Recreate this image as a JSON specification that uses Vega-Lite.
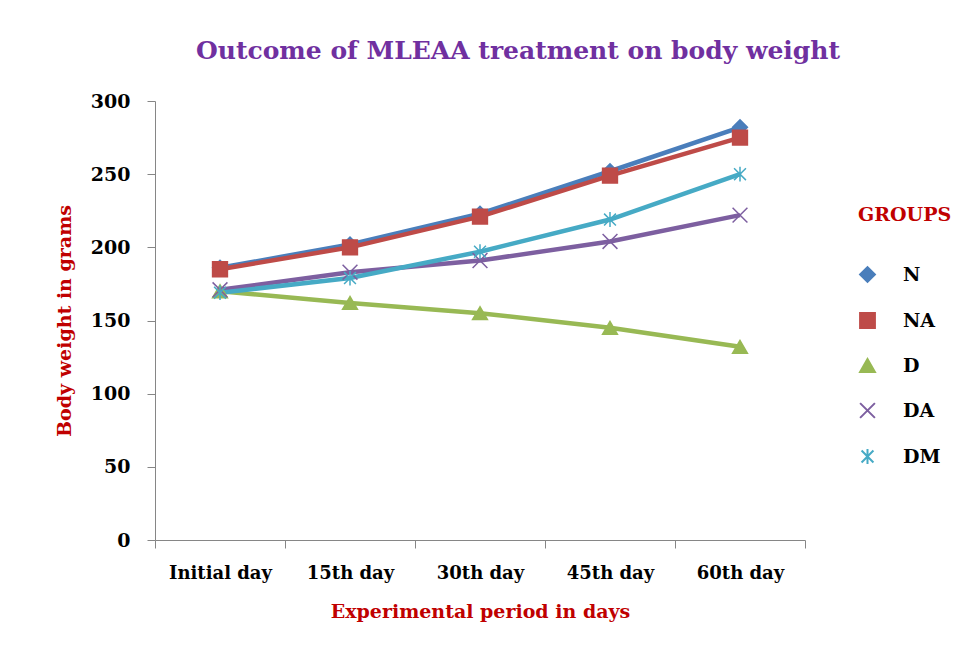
{
  "$schema": "https://vega.github.io/schema/vega-lite/v6.json",
  "autosize": "none",
  "width": 650,
  "height": 439,
  "padding": {"left": 155, "top": 101, "right": 157, "bottom": 110},
  "background": "white",
  "config": {"view": {"stroke": null}, "font": "DejaVu Serif"},
  "title": {
    "text": "Outcome of MLEAA treatment on body weight",
    "color": "#7030a0",
    "font": "DejaVu Serif",
    "fontWeight": "bold",
    "fontSize": 25,
    "anchor": "middle",
    "frame": "group",
    "dx": 38,
    "offset": 28
  },
  "data": {
    "values": [
      {"day": "Initial day", "group": "N", "weight": 186},
      {"day": "15th day", "group": "N", "weight": 202},
      {"day": "30th day", "group": "N", "weight": 223},
      {"day": "45th day", "group": "N", "weight": 252},
      {"day": "60th day", "group": "N", "weight": 282},
      {"day": "Initial day", "group": "NA", "weight": 185},
      {"day": "15th day", "group": "NA", "weight": 200},
      {"day": "30th day", "group": "NA", "weight": 221},
      {"day": "45th day", "group": "NA", "weight": 249},
      {"day": "60th day", "group": "NA", "weight": 275},
      {"day": "Initial day", "group": "D", "weight": 170},
      {"day": "15th day", "group": "D", "weight": 162},
      {"day": "30th day", "group": "D", "weight": 155},
      {"day": "45th day", "group": "D", "weight": 145},
      {"day": "60th day", "group": "D", "weight": 132},
      {"day": "Initial day", "group": "DA", "weight": 171},
      {"day": "15th day", "group": "DA", "weight": 183},
      {"day": "30th day", "group": "DA", "weight": 191},
      {"day": "45th day", "group": "DA", "weight": 204},
      {"day": "60th day", "group": "DA", "weight": 222},
      {"day": "Initial day", "group": "DM", "weight": 169},
      {"day": "15th day", "group": "DM", "weight": 179},
      {"day": "30th day", "group": "DM", "weight": 197},
      {"day": "45th day", "group": "DM", "weight": 219},
      {"day": "60th day", "group": "DM", "weight": 250}
    ]
  },
  "encoding": {
    "x": {
      "field": "day",
      "type": "nominal",
      "sort": ["Initial day", "15th day", "30th day", "45th day", "60th day"],
      "scale": {"paddingInner": 0, "paddingOuter": 0},
      "axis": {
        "title": "Experimental period in days",
        "titleColor": "#c00000",
        "titleFont": "DejaVu Serif",
        "titleFontSize": 19,
        "titleFontWeight": "bold",
        "titlePadding": 20,
        "labelAngle": 0,
        "labelFont": "DejaVu Serif",
        "labelFontSize": 18,
        "labelFontWeight": "bold",
        "labelColor": "black",
        "labelPadding": 16,
        "tickBand": "extent",
        "tickSize": 8,
        "tickColor": "#868686",
        "domainColor": "#868686",
        "grid": false
      }
    },
    "y": {
      "field": "weight",
      "type": "quantitative",
      "scale": {"domain": [0, 300], "nice": false},
      "axis": {
        "title": "Body weight in grams",
        "titleColor": "#c00000",
        "titleFont": "DejaVu Serif",
        "titleFontSize": 19,
        "titleFontWeight": "bold",
        "titlePadding": 16,
        "values": [0, 50, 100, 150, 200, 250, 300],
        "labelFont": "DejaVu Serif",
        "labelFontSize": 19,
        "labelFontWeight": "bold",
        "labelColor": "black",
        "labelPadding": 17,
        "tickSize": 8,
        "tickColor": "#868686",
        "domainColor": "#868686",
        "grid": false
      }
    },
    "color": {
      "field": "group",
      "type": "nominal",
      "sort": ["N", "NA", "D", "DA", "DM"],
      "scale": {
        "domain": ["N", "NA", "D", "DA", "DM"],
        "range": ["#4a7ebb", "#be4b48", "#98b954", "#7d5fa0", "#46aac5"]
      },
      "legend": {
        "title": "GROUPS",
        "titleColor": "#c00000",
        "titleFont": "DejaVu Serif",
        "titleFontSize": 19,
        "titleFontWeight": "bold",
        "titlePadding": 40,
        "labelFont": "DejaVu Serif",
        "labelFontSize": 19,
        "labelFontWeight": "bold",
        "labelColor": "black",
        "orient": "none",
        "legendX": 703,
        "legendY": 105,
        "rowPadding": 23,
        "symbolSize": 220,
        "symbolStrokeWidth": 2,
        "labelOffset": 26,
        "offset": 0
      }
    }
  },
  "layer": [
    {
      "mark": {"type": "line", "strokeWidth": 4.5},
      "encoding": {"detail": {"field": "group"}}
    },
    {
      "mark": {"type": "point", "filled": true, "size": 220, "opacity": 1, "strokeWidth": 1.5},
      "encoding": {
        "stroke": {
          "field": "group",
          "type": "nominal",
          "scale": {
            "domain": ["N", "NA", "D", "DA", "DM"],
            "range": ["#4a7ebb", "#be4b48", "#98b954", "#7d5fa0", "#46aac5"]
          },
          "legend": null
        },
        "shape": {
          "field": "group",
          "type": "nominal",
          "scale": {
            "domain": ["N", "NA", "D", "DA", "DM"],
            "range": ["diamond", "square", "triangle-up", "M-1,-1L1,1M-1,1L1,-1", "M0,-1L0,1M-0.8,-0.8L0.8,0.8M-0.8,0.8L0.8,-0.8"]
          },
          "legend": null
        }
      }
    }
  ]
}
